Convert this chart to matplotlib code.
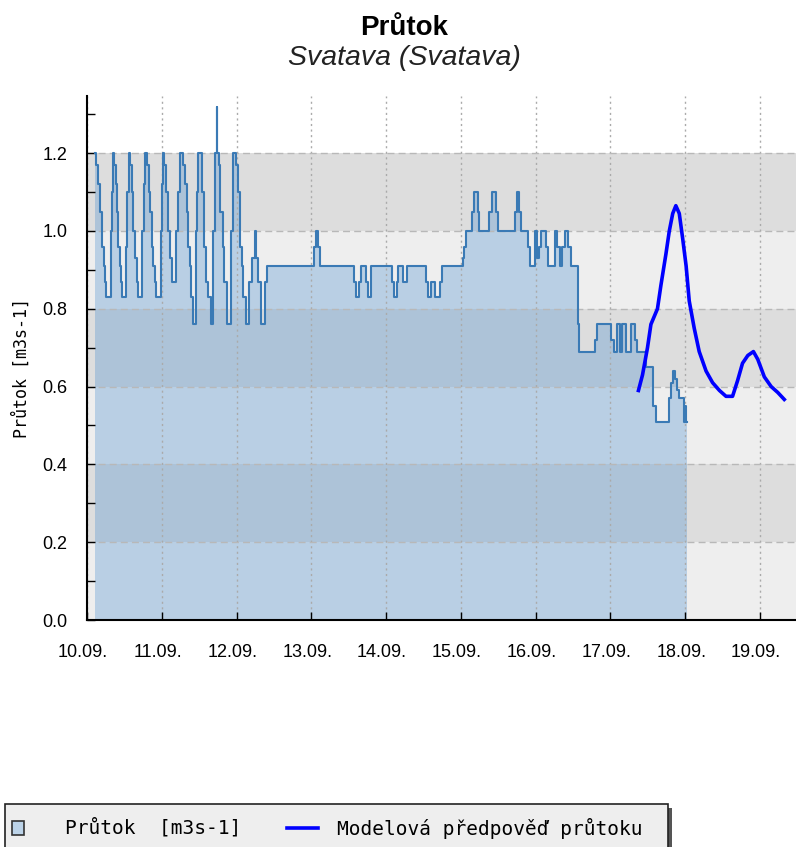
import numpy as np
import matplotlib
matplotlib.use('Agg')
import matplotlib.pyplot as plt
from matplotlib.patches import Rectangle
from matplotlib.lines import Line2D
from matplotlib.transforms import ScaledTranslation

# measured discharge, hours since 10.09. 00:00 (step data)
obs_hours = [2.5, 3.0, 3.6, 4.2, 4.8, 5.3, 5.8, 6.2, 7.6, 7.9,
             8.2, 8.7, 9.2, 9.7, 10.1, 10.5, 10.8, 11.1, 12.4, 12.9,
             13.4, 13.9, 14.4, 14.9, 15.4, 15.9, 16.4, 17.6, 18.2,
             18.7, 19.2, 19.8, 20.3, 20.8, 21.3, 21.7, 22.1, 23.6, 24.0,
             24.3, 24.8, 25.4, 26.0, 26.6, 27.3, 28.6, 29.3,
             29.9, 30.9, 31.4, 32.0, 32.5, 33.0, 33.5, 33.9, 34.9, 35.3,
             35.7, 36.9, 37.6, 38.3, 38.8, 39.8, 40.6,
             41.0, 41.6, 41.8, 42.3, 42.8, 43.5, 44.1, 44.9, 46.2,
             47.0, 47.8, 48.5, 49.0, 49.6, 50.1, 51.0, 52.0, 53.0,
             53.8, 54.3, 55.0, 55.8, 57.0,
             57.7, 72.8, 73.5, 74.2, 74.9,
             85.6, 86.4, 87.2, 87.8, 89.6, 90.2, 91.2,
             97.9, 98.5, 99.4, 99.8, 101.5, 102.6,
             108.8, 109.3, 110.3, 111.7, 113.3, 113.8,
             120.7, 121.1, 121.5, 123.6, 124.2, 125.5, 125.9,
             129.1, 130.0, 131.3, 132.0,
             137.4, 137.9, 138.7, 139.4,
             141.6, 142.1, 143.8, 144.3, 145.0, 145.8, 147.4, 148.0,
             150.3, 151.0, 151.8, 152.4, 153.3, 154.3, 155.3,
             157.6, 157.9, 163.1, 163.8,
             168.3, 169.0, 170.0, 171.0, 171.8, 173.0, 174.6, 176.0, 176.5,
             179.5, 181.6, 182.5, 186.9, 187.4, 188.2, 188.8, 189.3, 190.0,
             191.5, 191.9, 192.3, 192.7]
obs_values = [1.2, 1.17, 1.12, 1.05, 0.96, 0.91, 0.87, 0.83, 1.0, 1.1,
              1.2, 1.17, 1.12, 1.05, 0.96, 0.91, 0.87, 0.83, 0.96, 1.1,
              1.2, 1.17, 1.1, 1.0, 0.93, 0.87, 0.83, 1.0, 1.12,
              1.2, 1.17, 1.1, 1.05, 0.96, 0.91, 0.87, 0.83, 1.0, 1.12,
              1.2, 1.17, 1.1, 1.0, 0.93, 0.87, 1.0, 1.1,
              1.2, 1.17, 1.12, 1.05, 0.96, 0.91, 0.83, 0.76, 1.0, 1.1,
              1.2, 1.1, 0.96, 0.87, 0.83, 0.76, 1.0,
              1.2, 1.32, 1.2, 1.17, 1.05, 0.96, 0.87, 0.76, 1.0,
              1.2, 1.17, 1.1, 0.96, 0.91, 0.83, 0.76, 0.87, 0.93,
              1.0, 0.93, 0.87, 0.76, 0.87,
              0.91, 0.96, 1.0, 0.96, 0.91,
              0.87, 0.83, 0.87, 0.91, 0.87, 0.83, 0.91,
              0.87, 0.83, 0.87, 0.91, 0.87, 0.91,
              0.87, 0.83, 0.87, 0.83, 0.87, 0.91,
              0.93, 0.96, 1.0, 1.05, 1.1, 1.05, 1.0,
              1.05, 1.1, 1.05, 1.0,
              1.05, 1.1, 1.05, 1.0,
              0.96, 0.91, 1.0, 0.93, 0.96, 1.0, 0.96, 0.91,
              1.0, 0.96, 0.91, 0.96, 1.0, 0.96, 0.91,
              0.76, 0.69, 0.72, 0.76,
              0.72, 0.69, 0.76, 0.69, 0.76, 0.69, 0.76, 0.72, 0.69,
              0.65, 0.55, 0.51, 0.57, 0.61, 0.64, 0.62, 0.59, 0.57,
              0.51, 0.55, 0.51, 0.51]

# model forecast
fc_hours = [177.0, 178.3, 179.9, 181.0, 183.1, 184.2, 185.8, 186.9, 188.0, 189.0,
            190.1, 191.2, 192.3, 193.3, 194.9, 196.5, 198.7, 200.8, 203.0, 205.1,
            207.2, 208.8, 210.4, 212.1, 213.9, 215.3, 217.4, 219.6, 221.7, 223.8]
fc_values = [0.59, 0.63, 0.70, 0.76, 0.80, 0.86, 0.94, 1.00, 1.045, 1.065,
             1.045, 0.98, 0.91, 0.82, 0.75, 0.69, 0.64, 0.61, 0.59, 0.575,
             0.575, 0.615, 0.66, 0.68, 0.69, 0.67, 0.625, 0.60, 0.585, 0.567]

day_labels = ['10.09.', '11.09.', '12.09.', '13.09.', '14.09.',
              '15.09.', '16.09.', '17.09.', '18.09.', '19.09.']

W, H = 796, 847
fig = plt.figure(figsize=(W / 100, H / 100), dpi=100)

def fx(x):
    return x / W

def fy(y):
    return 1 - y / H

ax = fig.add_axes([fx(87), fy(620), fx(W - 87), (620 - 96) / H])

# alternating background bands
for k in range(6):
    ax.axhspan(0.2 * k, 0.2 * (k + 1), color='#eeeeee' if k % 2 == 0 else '#dddddd',
               lw=0, zorder=0)

ax.fill_between(obs_hours, obs_values, step='post', color='#4a8fd0', alpha=0.32,
                lw=0, zorder=1)
ax.step(obs_hours, obs_values, where='post', color='#3a7ab5', lw=1.5, zorder=2)
ax.plot(fc_hours, fc_values, color='#0000ff', lw=2.6, zorder=3)

ax.set_xlim(0, (W - 87.7) / 74.7 * 24)
ax.set_ylim(0, 1.347)

ax.set_xticks(np.arange(len(day_labels)) * 24)
ax.set_xticklabels(day_labels, family='Liberation Sans', fontsize=13)
ax.set_yticks(np.arange(0, 1.21, 0.2))
ax.set_yticklabels(['%.1f' % v for v in np.arange(0, 1.21, 0.2)],
                   family='Liberation Sans', fontsize=13)
ax.set_yticks(np.arange(0.1, 1.31, 0.2), minor=True)
ax.tick_params(which='both', direction='in', length=5.5, width=1, color='black')
ax.tick_params(axis='x', pad=17)
ax.tick_params(axis='y', pad=14)
for lab in ax.get_xticklabels():
    lab.set_transform(lab.get_transform() + ScaledTranslation(-0.04, 0, fig.dpi_scale_trans))

ax.grid(axis='y', color='#b8b8b8', ls=(0, (5, 3)), lw=1, zorder=1.5)
ax.grid(axis='x', color='#aaaaaa', ls=(0, (1.5, 2.5)), lw=1, zorder=1.5)

for s in ['top', 'right']:
    ax.spines[s].set_visible(False)
for s in ['left', 'bottom']:
    ax.spines[s].set_linewidth(1.5)

fig.text(fx(404), fy(35), 'Průtok', ha='center', va='baseline',
         family='Liberation Sans', weight='bold', fontsize=20)
fig.text(fx(404), fy(65), 'Svatava (Svatava)', ha='center', va='baseline',
         family='Liberation Sans', style='italic', fontsize=20.5, color='#222222')
fig.text(fx(22), fy(368), 'Průtok [m3s-1]', rotation=90, ha='center', va='center',
         family='DejaVu Sans Mono', fontsize=12)

# legend box at the bottom
fig.add_artist(Rectangle((fx(9), fy(852)), fx(663), (852 - 808) / H,
                         transform=fig.transFigure, facecolor='#555555', lw=0))
fig.add_artist(Rectangle((fx(5), fy(850)), fx(663), (850 - 804) / H,
                         transform=fig.transFigure, facecolor='#eeeeee',
                         edgecolor='#222222', lw=1.2))
fig.add_artist(Rectangle((fx(12), fy(835)), fx(12), 14 / H, transform=fig.transFigure,
                         facecolor='#bcd3e8', edgecolor='#333333', lw=1.2))
fig.add_artist(Line2D([fx(287), fx(318)], [fy(828), fy(828)], transform=fig.transFigure,
                      color='#0000ff', lw=2.6))
fig.text(fx(65), fy(828), 'Průtok  [m3s-1]', va='center', family='DejaVu Sans Mono',
         fontsize=14)
fig.text(fx(337), fy(828), 'Modelová předpověď průtoku', va='center',
         family='DejaVu Sans Mono', fontsize=14)

fig.savefig('out.png', dpi=100)
